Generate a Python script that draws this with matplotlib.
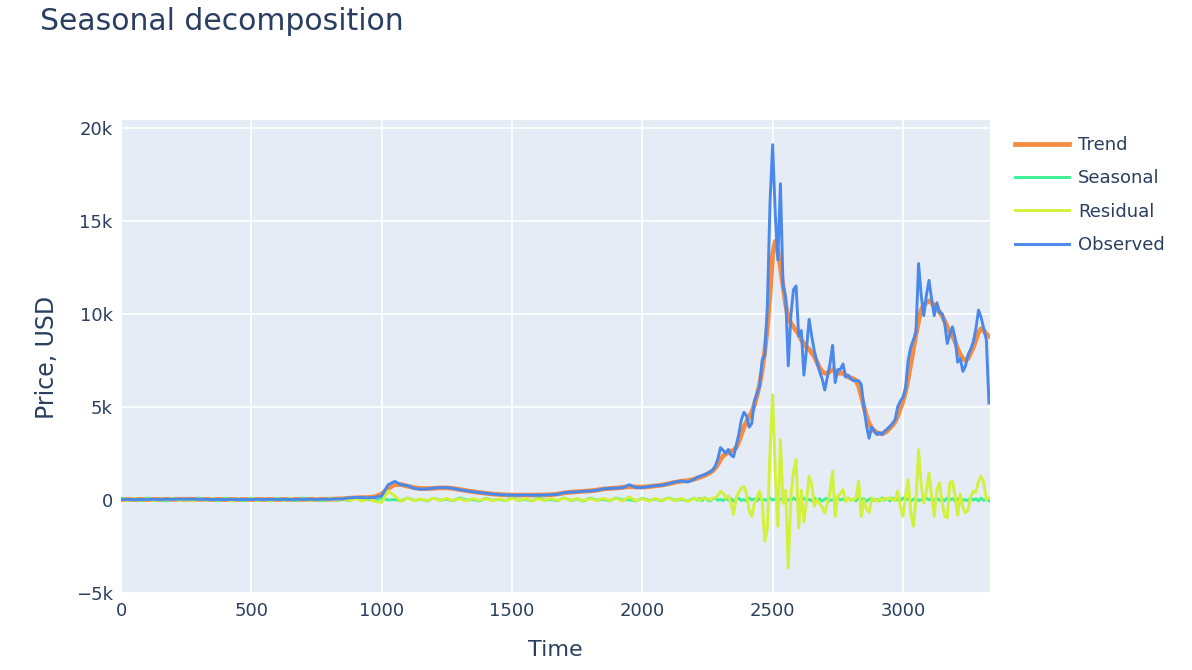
import numpy as np
import matplotlib
matplotlib.use("Agg")
import matplotlib.pyplot as plt
from matplotlib.ticker import FuncFormatter

# sample positions: coarse before the 2017 run-up, finer afterwards
time_early = np.arange(0, 2201, 25)
time_late = np.arange(2210, 3340, 10)
time = np.concatenate([time_early, time_late])

observed_early = [
    5, 5, 5, 5, 10, 10, 15, 20, 20, 25,
    30, 20, 15, 10, 8, 5, 5, 5, 4, 5,
    6, 6, 8, 10, 12, 12, 11, 11, 12, 12,
    13, 14, 20, 30, 40, 90, 120, 110, 100, 120,
    200, 800, 980, 800, 750, 600, 560, 580, 620, 650,
    640, 600, 530, 480, 420, 380, 340, 300, 270, 250,
    240, 240, 250, 240, 240, 250, 260, 280, 380, 400,
    420, 450, 460, 500, 580, 600, 620, 640, 800, 650,
    650, 700, 750, 770, 850, 950, 1000, 950, 1100,
]
observed_late = [
    1200, 1250, 1300, 1350, 1420, 1500, 1600, 1800, 2200, 2800,
    2650, 2500, 2700, 2400, 2300, 2900, 3500, 4300, 4700, 4500,
    3900, 4100, 5300, 5700, 6100, 7500, 7800, 10500, 16000, 19100,
    15400, 12900, 17000, 11500, 10900, 7200, 9900, 11300, 11500, 8800,
    9100, 6700, 8100, 9700, 8800, 8000, 7400, 6900, 6500, 5900,
    6600, 7300, 8300, 6300, 7000, 7000, 7300, 6600, 6700, 6500,
    6400, 6400, 6400, 6200, 5000, 4000, 3300, 3900, 3700, 3500,
    3600, 3500, 3700, 3800, 3950, 4100, 4300, 5000, 5300, 5500,
    6000, 7500, 8200, 8600, 9000, 12700, 11000, 9900, 11000, 11800,
    10800, 9900, 10600, 10100, 10000, 9500, 8400, 8900, 9300, 8700,
    7400, 7600, 6900, 7200, 7800, 8100, 8500, 9200, 10200, 9800,
    9200, 8600, 5200,
]

trend_early = [
    5, 5, 6, 7, 9, 11, 14, 17, 20, 23,
    24, 20, 15, 11, 8, 6, 5, 5, 5, 5,
    6, 7, 8, 9, 11, 11, 11, 11, 12, 12,
    13, 15, 20, 30, 45, 75, 100, 110, 115, 150,
    300, 600, 800, 810, 720, 640, 600, 590, 610, 630,
    630, 600, 540, 480, 430, 380, 340, 300, 275, 255,
    245, 242, 245, 243, 245, 250, 265, 300, 360, 400,
    425, 450, 470, 510, 570, 600, 620, 660, 700, 680,
    670, 700, 740, 780, 850, 930, 990, 1020, 1100,
]
trend_late = [
    1150, 1200, 1250, 1300, 1380, 1450, 1550, 1700, 1900, 2150,
    2350, 2450, 2550, 2600, 2650, 2800, 3100, 3500, 3900, 4200,
    4450, 4700, 5100, 5600, 6200, 7000, 8000, 9300, 11000, 13200,
    13900, 13400, 12500, 11500, 10500, 9800, 9500, 9300, 9100, 8900,
    8600, 8400, 8200, 8100, 7900, 7700, 7400, 7100, 6900, 6800,
    6800, 6900, 7000, 6900, 6800, 6800, 6800, 6700, 6600, 6550,
    6500, 6400, 6100, 5600, 5000, 4500, 4100, 3850, 3700, 3600,
    3550, 3550, 3600, 3700, 3850, 4000, 4200, 4500, 4900, 5300,
    5800, 6500, 7300, 8100, 8900, 9600, 10200, 10500, 10600, 10700,
    10600, 10400, 10300, 10100, 9900, 9600, 9300, 9000, 8800, 8500,
    8100, 7800, 7600, 7500, 7600, 7900, 8200, 8600, 9000, 9200,
    9100, 8900, 8800,
]

seasonal_early = [
    80, -30, 10, -60, 90, -20, 0, -70, 70, -40,
    20, -60, 90, -30, 10, -70, 80, -20, 0, -60,
    90, -40, 20, -70, 80, -30, 10, -60, 90, -20,
    0, -70, 70, -40, 20, -60, 90, -30, 10, -70,
    80, -20, 0, -60, 90, -40, 20, -70, 80, -30,
    10, -60, 90, -20, 0, -70, 70, -40, 20, -60,
    90, -30, 10, -70, 80, -20, 0, -60, 90, -40,
    20, -70, 80, -30, 10, -60, 90, -20, 0, -70,
    70, -40, 20, -60, 90, -30, 10, -70, 80,
]
seasonal_late = [
    -20, 60, -50, 90, -10, -70, 40, 80, -40, 10,
    -60, 90, -30, 50, -80, 20, 70, -50, 0, -60,
    90, -20, 40, -70, 80, -40, 10, -60, 90, -30,
    50, -80, 20, 70, -50, 0, -60, 90, -20, 40,
    -70, 80, -40, 10, -60, 90, -30, 50, -80, 20,
    70, -50, 0, -60, 90, -20, 40, -70, 80, -40,
    10, -60, 90, -30, 50, -80, 20, 70, -50, 0,
    -60, 90, -20, 40, -70, 80, -40, 10, -60, 90,
    -30, 50, -80, 20, 70, -50, 0, -60, 90, -20,
    40, -70, 80, -40, 10, -60, 90, -30, 50, -80,
    20, 70, -50, 0, -60, 90, -20, 40, -70, 80,
    -40, 10, -60,
]

residual_early = [
    20, -40, 60, -30, 50, -60, 40, -20, 70, -50,
    30, -60, 50, -40, 60, -30, 40, -70, 50, -20,
    60, -50, 30, -60, 50, -40, 70, -30, 40, -60,
    50, -40, 60, -30, 40, -50, 60, -80, 50, -100,
    -150, 450, 200, -100, 80, -60, 40, -50, 70, -40,
    60, -50, 40, -70, 60, -40, 50, -60, 30, -50,
    60, -40, 50, -60, 40, -50, 60, -40, 70, -30,
    50, -60, 40, -50, 70, -40, 60, -80, 150, -60,
    50, -70, 60, -50, 80, -60, 70, -90, 60,
]
residual_late = [
    50, -60, 80, 40, 60, -30, 80, 100, 200, 450,
    350, 80, 200, -200, -800, 100, 400, 629, 700, 300,
    -600, -898, -200, 100, 450, -100, -2243, -1500, 2600, 5650,
    1500, -1436, 3228, -200, 500, -3676, 180, 1500, 2152, -1525,
    500, -1200, -100, 1254, 800, -359, 0, -200, -400, -718,
    -200, 400, 1525, -898, 200, 300, 538, -100, 100, -50,
    0, 100, 985, -898, 0, -500, -700, 90, 0, -100,
    50, -50, 100, 0, 100, 0, -50, 450, -359, -898,
    200, 1076, -700, -1436, 0, 2690, 800, -179, 400, 1434,
    200, -898, 500, 898, -100, -898, -987, 898, 1000, 200,
    -850, 300, -400, -718, -538, 180, 450, 400, 985, 1254,
    898, 0, 90,
]

observed = observed_early + observed_late
trend = trend_early + trend_late
seasonal = seasonal_early + seasonal_late
residual = residual_early + residual_late

font_color = "#2a3f5f"
plt.rcParams["font.family"] = ["DejaVu Sans"]

fig = plt.figure(figsize=(11.92, 6.70), dpi=100)
ax = fig.add_axes([121 / 1192, 76 / 670, 869 / 1192, 474 / 670])
ax.set_facecolor("#e5ecf6")

ax.plot(time, trend, color="#f58c41", lw=3.4, label="Trend", zorder=3)
ax.plot(time, seasonal, color="#3cf096", lw=2.1, label="Seasonal", zorder=4)
ax.plot(time, residual, color="#d2f03c", lw=2.1, label="Residual", zorder=5)
ax.plot(time, observed, color="#4a88eb", lw=2.1, label="Observed", zorder=6)

ax.set_xlim(0, 3334)
ax.set_ylim(-5080, 20430)
ax.set_xticks(range(0, 3001, 500))
ax.set_yticks(range(-5000, 20001, 5000))


def k_fmt(v, pos):
    if v == 0:
        return "0"
    s = f"{int(v / 1000)}k"
    return s.replace("-", "\u2212")


ax.yaxis.set_major_formatter(FuncFormatter(k_fmt))
ax.grid(True, color="white", lw=1.3)
ax.set_axisbelow(True)
for sp in ax.spines.values():
    sp.set_visible(False)
ax.tick_params(length=0, labelsize=13, labelcolor=font_color, pad=6)

ax.set_xlabel("Time", fontsize=16, color=font_color, labelpad=14)
ax.set_ylabel("Price, USD", fontsize=17, color=font_color, labelpad=12)

fig.text(40 / 1192, 1 - 21 / 670, "Seasonal decomposition", fontsize=21.5,
         color=font_color, va="center", ha="left")

leg = ax.legend(loc="upper left", bbox_to_anchor=(1015 / 1192, 1 - 136 / 670),
                bbox_transform=fig.transFigure, frameon=False, fontsize=13,
                handlelength=3.0, handletextpad=0.5, labelspacing=0.85,
                borderpad=0, borderaxespad=0)
for t in leg.get_texts():
    t.set_color(font_color)

fig.savefig("out.png", dpi=100)
